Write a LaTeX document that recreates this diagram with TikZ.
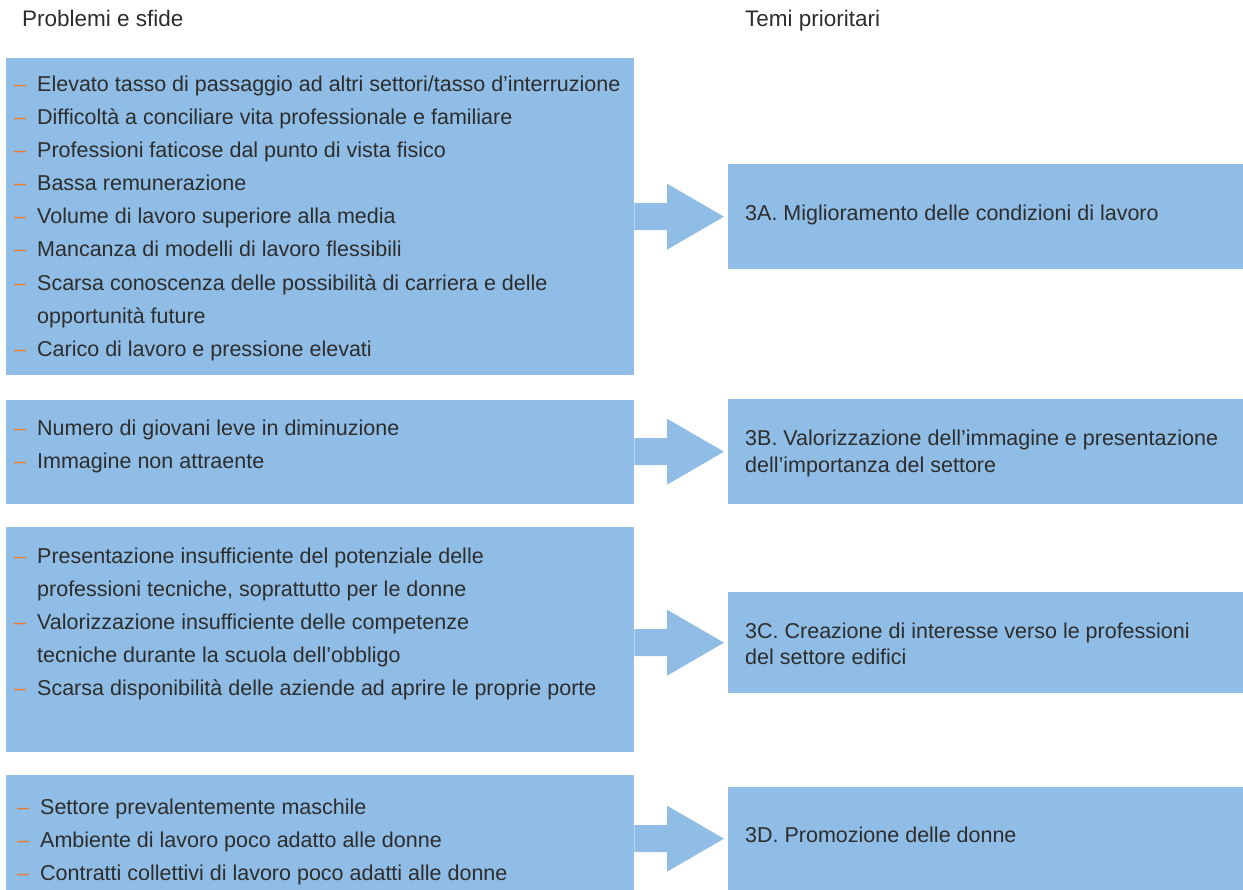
\documentclass[tikz,border=0pt]{standalone}
\usepackage{fontspec}
\setmainfont{Liberation Sans}
\usetikzlibrary{calc}
\definecolor{boxblue}{RGB}{143,189,229}
\definecolor{dashorange}{RGB}{238,122,48}
\definecolor{txt}{RGB}{45,45,45}
\tikzset{
  box/.style={fill=boxblue, draw=none, anchor=north west, inner sep=0pt},
  txtnode/.style={anchor=base west, inner sep=0pt, text=txt, font=\fontsize{21.5}{25}\selectfont},
  headnode/.style={anchor=base west, inner sep=0pt, text=txt, font=\fontsize{22.5}{26}\selectfont},
  blockarrow/.style={fill=boxblue, draw=none},
}
\newcommand{\dsh}{\makebox[23pt][l]{\textcolor{dashorange}{–}}}
\newcommand{\nodsh}{\hspace*{23pt}}
\begin{document}
\begin{tikzpicture}[x=1pt,y=-1pt]
\useasboundingbox (0,0) rectangle (1243,890);
% headings
\node[headnode] (h1) at (22,27) {Problemi e sfide};
\node[headnode] (h2) at (745,27) {Temi prioritari};
% left boxes
\node[box, minimum width=628pt, minimum height=317pt] (b1) at (6,58) {};
\node[box, minimum width=628pt, minimum height=104pt] (b2) at (6,400) {};
\node[box, minimum width=628pt, minimum height=225pt] (b3) at (6,527) {};
\node[box, minimum width=628pt, minimum height=115pt] (b4) at (6,775) {};
% right boxes
\node[box, minimum width=515pt, minimum height=105pt] (r1) at (728,164) {};
\node[box, minimum width=515pt, minimum height=105pt] (r2) at (728,399) {};
\node[box, minimum width=515pt, minimum height=101pt] (r3) at (728,592) {};
\node[box, minimum width=515pt, minimum height=103pt] (r4) at (728,787) {};
% block arrows
\foreach \l/\r in {b1/r1,b2/r2,b3/r3,b4/r4}{
  \fill[blockarrow]
    ($(\l.east |- \r.west)+(0,-13.5)$) -- ($(\r.west)+(-61,-13.5)$)
    -- ($(\r.west)+(-61,-33)$) -- ($(\r.west)+(-4,0)$)
    -- ($(\r.west)+(-61,33)$) -- ($(\r.west)+(-61,13.5)$)
    -- ($(\l.east |- \r.west)+(0,13.5)$) -- cycle;
}
% box 1 text
\node[txtnode] (t11) at (14,92) {\dsh Elevato tasso di passaggio ad altri settori/tasso d’interruzione};
\node[txtnode] (t12) at (14,125) {\dsh Difficoltà a conciliare vita professionale e familiare};
\node[txtnode] (t13) at (14,158) {\dsh Professioni faticose dal punto di vista fisico};
\node[txtnode] (t14) at (14,191) {\dsh Bassa remunerazione};
\node[txtnode] (t15) at (14,224) {\dsh Volume di lavoro superiore alla media};
\node[txtnode] (t16) at (14,257) {\dsh Mancanza di modelli di lavoro flessibili};
\node[txtnode] (t17) at (14,291) {\dsh Scarsa conoscenza delle possibilità di carriera e delle};
\node[txtnode] (t18) at (14,324) {\nodsh opportunità future};
\node[txtnode] (t19) at (14,357) {\dsh Carico di lavoro e pressione elevati};
% box 2 text
\node[txtnode] (t21) at (14,436) {\dsh Numero di giovani leve in diminuzione};
\node[txtnode] (t22) at (14,469) {\dsh Immagine non attraente};
% box 3 text
\node[txtnode] (t31) at (14,563) {\dsh Presentazione insufficiente del potenziale delle};
\node[txtnode] (t32) at (14,596) {\nodsh professioni tecniche, soprattutto per le donne};
\node[txtnode] (t33) at (14,629) {\dsh Valorizzazione insufficiente delle competenze};
\node[txtnode] (t34) at (14,662) {\nodsh tecniche durante la scuola dell’obbligo};
\node[txtnode] (t35) at (14,695) {\dsh Scarsa disponibilità delle aziende ad aprire le proprie porte};
% box 4 text
\node[txtnode] (t41) at (17,814) {\dsh Settore prevalentemente maschile};
\node[txtnode] (t42) at (17,847) {\dsh Ambiente di lavoro poco adatto alle donne};
\node[txtnode] (t43) at (17,880) {\dsh Contratti collettivi di lavoro poco adatti alle donne};
% right texts
\node[txtnode] (s1) at (745,221) {3A. Miglioramento delle condizioni di lavoro};
\node[txtnode] (s21) at (745,446) {3B. Valorizzazione dell’immagine e presentazione};
\node[txtnode] (s22) at (745,473) {dell’importanza del settore};
\node[txtnode] (s31) at (745,638) {3C. Creazione di interesse verso le professioni};
\node[txtnode] (s32) at (745,664) {del settore edifici};
\node[txtnode] (s4) at (745,842) {3D. Promozione delle donne};
\end{tikzpicture}
\end{document}
